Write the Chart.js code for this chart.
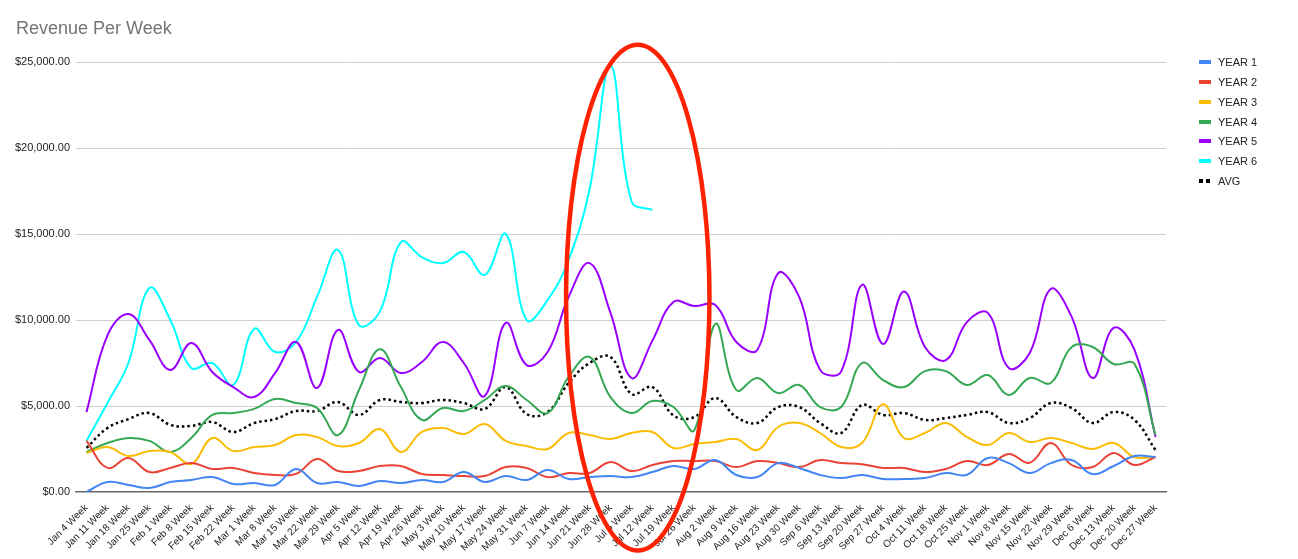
<!DOCTYPE html>
<html>
<head>
<meta charset="utf-8">
<title>Revenue Per Week</title>
<script src="https://cdn.jsdelivr.net/npm/chart.js@4.4.1/dist/chart.umd.min.js"></script>
<style>
    body { margin: 0; background: #fff; font-family: Arial, "Liberation Sans", sans-serif; }
    #wrap { position: relative; width: 1298px; height: 559px; }
    #title { position: absolute; left: 16px; top: 18px; font-size: 18px; line-height: 20px; color: #757575; }
    #legend { position: absolute; left: 1199px; top: 52px; }
    .legend-item { height: 19.85px; line-height: 20px; font-size: 11px; color: #222; position: relative; padding-left: 19px; white-space: nowrap; }
    .legend-swatch { position: absolute; left: 0; top: 8px; width: 12px; height: 4px; }
    .legend-dots { position: absolute; left: 0; top: 8px; width: 12px; height: 4px; }
    .legend-dots span { position: absolute; top: 0; width: 4px; height: 4px; background: #000; }
</style>
</head>
<body>
<div id="wrap">
    <canvas id="revenueChart" width="1298" height="559"></canvas>
    <div id="title">Revenue Per Week</div>
    <div id="legend"></div>
</div>
<script>
// Week labels
const weeks = [
    'Jan 4 Week', 'Jan 11 Week', 'Jan 18 Week', 'Jan 25 Week',
    'Feb 1 Week', 'Feb 8 Week', 'Feb 15 Week', 'Feb 22 Week',
    'Mar 1 Week', 'Mar 8 Week', 'Mar 15 Week', 'Mar 22 Week', 'Mar 29 Week',
    'Apr 5 Week', 'Apr 12 Week', 'Apr 19 Week', 'Apr 26 Week',
    'May 3 Week', 'May 10 Week', 'May 17 Week', 'May 24 Week', 'May 31 Week',
    'Jun 7 Week', 'Jun 14 Week', 'Jun 21 Week', 'Jun 28 Week',
    'Jul 5 Week', 'Jul 12 Week', 'Jul 19 Week', 'Jul 26 Week',
    'Aug 2 Week', 'Aug 9 Week', 'Aug 16 Week', 'Aug 23 Week', 'Aug 30 Week',
    'Sep 6 Week', 'Sep 13 Week', 'Sep 20 Week', 'Sep 27 Week',
    'Oct 4 Week', 'Oct 11 Week', 'Oct 18 Week', 'Oct 25 Week',
    'Nov 1 Week', 'Nov 8 Week', 'Nov 15 Week', 'Nov 22 Week', 'Nov 29 Week',
    'Dec 6 Week', 'Dec 13 Week', 'Dec 20 Week', 'Dec 27 Week'
];

// Weekly revenue per year
const year1 = [
    0, 580, 410, 230, 580, 700, 870, 470, 520, 410, 1340, 520, 580,
    350, 640, 520, 700, 580, 1160, 580, 930, 700, 1280, 760, 870, 930,
    870, 1160, 1510, 1340, 1860, 990, 870, 1680, 1400, 990, 810, 990,
    760, 760, 810, 1100, 1000, 1980, 1680, 1100, 1680, 1860, 1040, 1510, 2090, 2030
];
const year2 = [
    2970, 1400, 1980, 1160, 1400, 1690, 1340, 1400, 1100, 990, 1050, 1920, 1220,
    1220, 1510, 1510, 1050, 990, 930, 930, 1450, 1400, 870, 1100, 1100, 1740,
    1220, 1570, 1800, 1800, 1800, 1450, 1800, 1680, 1450, 1860, 1680, 1620,
    1400, 1400, 1160, 1340, 1800, 1570, 2210, 1700, 2850, 1570, 1450, 2270, 1570, 2030
];
const year3 = [
    2270, 2620, 2090, 2380, 2330, 1630, 3140, 2380, 2620, 2730, 3310, 3200, 2670,
    2850, 3660, 2330, 3490, 3720, 3370, 3950, 2970, 2670, 2500, 3430, 3310, 3080,
    3430, 3490, 2560, 2790, 2910, 3080, 2440, 3780, 4010, 3430, 2620, 2850,
    5100, 3140, 3430, 4010, 3200, 2730, 3430, 2910, 3140, 2850, 2500, 2850, 2030, 2030
];
const year4 = [
    2330, 2850, 3140, 2970, 2330, 3140, 4480, 4590, 4830, 5410, 5170, 4880, 3310,
    5930, 8300, 6100, 4190, 4880, 4710, 5350, 6160, 5350, 4590, 6690, 7850, 5520,
    4590, 5290, 4940, 3600, 9770, 5930, 6630, 5750, 6220, 4940, 4940, 7500,
    6510, 6100, 7030, 7030, 6220, 6800, 5640, 6630, 6340, 8430, 8430, 7440, 7440, 3300
];
const year5 = [
    4650, 9100, 10350, 8840, 7090, 8660, 6980, 6100, 5520, 6920, 8720, 6050, 9420,
    6980, 7790, 6920, 7560, 8720, 7500, 5580, 9830, 7380, 8140, 11340, 13310, 10410,
    6630, 8800, 11050, 10810, 10870, 8720, 8260, 12730, 11340, 7100, 7000, 12050,
    8600, 11650, 8430, 7670, 9880, 10410, 7210, 8080, 11800, 10180, 6630, 9540, 8260, 3200
];
const year6 = [
    2970, 5170, 7500, 11860, 10000, 7210, 7500, 6220, 9480, 8140, 8720, 11340, 14070,
    9700, 10500, 14530, 13660, 13310, 13950, 12620, 15000, 10000, 11160, 13490, 17600, 24800,
    16900, 16400
];
const avg = [
    2560, 3720, 4240, 4590, 3900, 3840, 4070, 3490, 4010, 4240, 4710, 4710, 5230,
    4480, 5350, 5230, 5170, 5350, 5170, 4830, 6100, 4530, 4650, 6340, 7500, 7850,
    5700, 6100, 4450, 4360, 5460, 4360, 4010, 4940, 4940, 4010, 3430, 5060,
    4480, 4590, 4190, 4300, 4480, 4650, 4010, 4300, 5170, 4880, 4010, 4650, 4190, 2440
];

// Y axis ticks
const yTicks = [0, 5000, 10000, 15000, 20000, 25000];

// Series colors
const COLORS = {
    year1: '#4285f4',
    year2: '#ea4335',
    year3: '#fbbc04',
    year4: '#34a853',
    year5: '#9900ff',
    year6: '#00ffff',
    avg: '#000000'
};

// Hand-drawn highlight around the Jul peak (in data units)
const HIGHLIGHT = { centerWeek: 26.3, centerValue: 11300, halfWeeks: 3.42, halfValue: 14700 };

const series = [
    { label: 'YEAR 1', data: year1, color: COLORS.year1 },
    { label: 'YEAR 2', data: year2, color: COLORS.year2 },
    { label: 'YEAR 3', data: year3, color: COLORS.year3 },
    { label: 'YEAR 4', data: year4, color: COLORS.year4 },
    { label: 'YEAR 5', data: year5, color: COLORS.year5 },
    { label: 'YEAR 6', data: year6, color: COLORS.year6 },
    { label: 'AVG', data: avg, color: COLORS.avg, dotted: true }
];

/**
 * Draw the red ellipse annotation
 */
const highlightPlugin = {
    id: 'highlight',
    afterDraw(chart) {
        const x = chart.scales.x;
        const y = chart.scales.y;
        const step = x.getPixelForValue(1) - x.getPixelForValue(0);
        const cx = x.getPixelForValue(0) + HIGHLIGHT.centerWeek * step;
        const cy = y.getPixelForValue(HIGHLIGHT.centerValue);
        const rx = HIGHLIGHT.halfWeeks * step;
        const ry = y.getPixelForValue(0) - y.getPixelForValue(HIGHLIGHT.halfValue);
        const ctx = chart.ctx;
        ctx.save();
        ctx.beginPath();
        ctx.ellipse(cx, cy, rx, ry, 0, 0, Math.PI * 2);
        ctx.strokeStyle = '#ff2200';
        ctx.lineWidth = 4.5;
        ctx.stroke();
        ctx.restore();
    }
};

new Chart(document.getElementById('revenueChart').getContext('2d'), {
    type: 'line',
    data: {
        labels: weeks,
        datasets: series.map(s => ({
            label: s.label,
            data: s.data,
            borderColor: s.color,
            backgroundColor: s.color,
            borderWidth: s.dotted ? 2.5 : 2,
            borderDash: s.dotted ? [2.5, 3] : [],
            borderCapStyle: 'butt',
            pointRadius: 0,
            tension: 0.4,
            fill: false
        }))
    },
    options: {
        responsive: false,
        animation: false,
        devicePixelRatio: 1,
        layout: { padding: { top: 62, right: 132, left: 0, bottom: 0 } },
        plugins: {
            legend: { display: false },
            title: { display: false },
            tooltip: { enabled: false }
        },
        scales: {
            x: {
                offset: true,
                grid: { display: false },
                border: { display: true, color: '#666', width: 1.5 },
                ticks: {
                    autoSkip: false,
                    maxRotation: 45,
                    minRotation: 45,
                    padding: 2,
                    color: '#222',
                    font: { family: 'Arial, "Liberation Sans"', size: 10 }
                },
                afterFit(scale) { scale.height = 67; }
            },
            y: {
                min: 0,
                max: 25000,
                afterBuildTicks(scale) { scale.ticks = yTicks.map(v => ({ value: v })); },
                grid: {
                    drawTicks: false,
                    color: ctx => ctx.tick && ctx.tick.value === 0 ? 'rgba(0,0,0,0)' : '#d0d0d0'
                },
                border: { display: false },
                ticks: {
                    padding: 6,
                    color: '#222',
                    font: { family: 'Arial, "Liberation Sans"', size: 11 },
                    callback: v => '$' + v.toLocaleString('en-US', { minimumFractionDigits: 2, maximumFractionDigits: 2 })
                },
                afterFit(scale) { scale.width = 76; }
            }
        }
    },
    plugins: [highlightPlugin]
});

// Legend on the right
const legend = document.getElementById('legend');
legend.innerHTML = series.map(s => `
    <div class="legend-item">
        ${s.dotted
            ? '<span class="legend-dots"><span style="left:0"></span><span style="left:7px"></span></span>'
            : `<span class="legend-swatch" style="background:${s.color}"></span>`}
        ${s.label}
    </div>
`).join('');
</script>
</body>
</html>
